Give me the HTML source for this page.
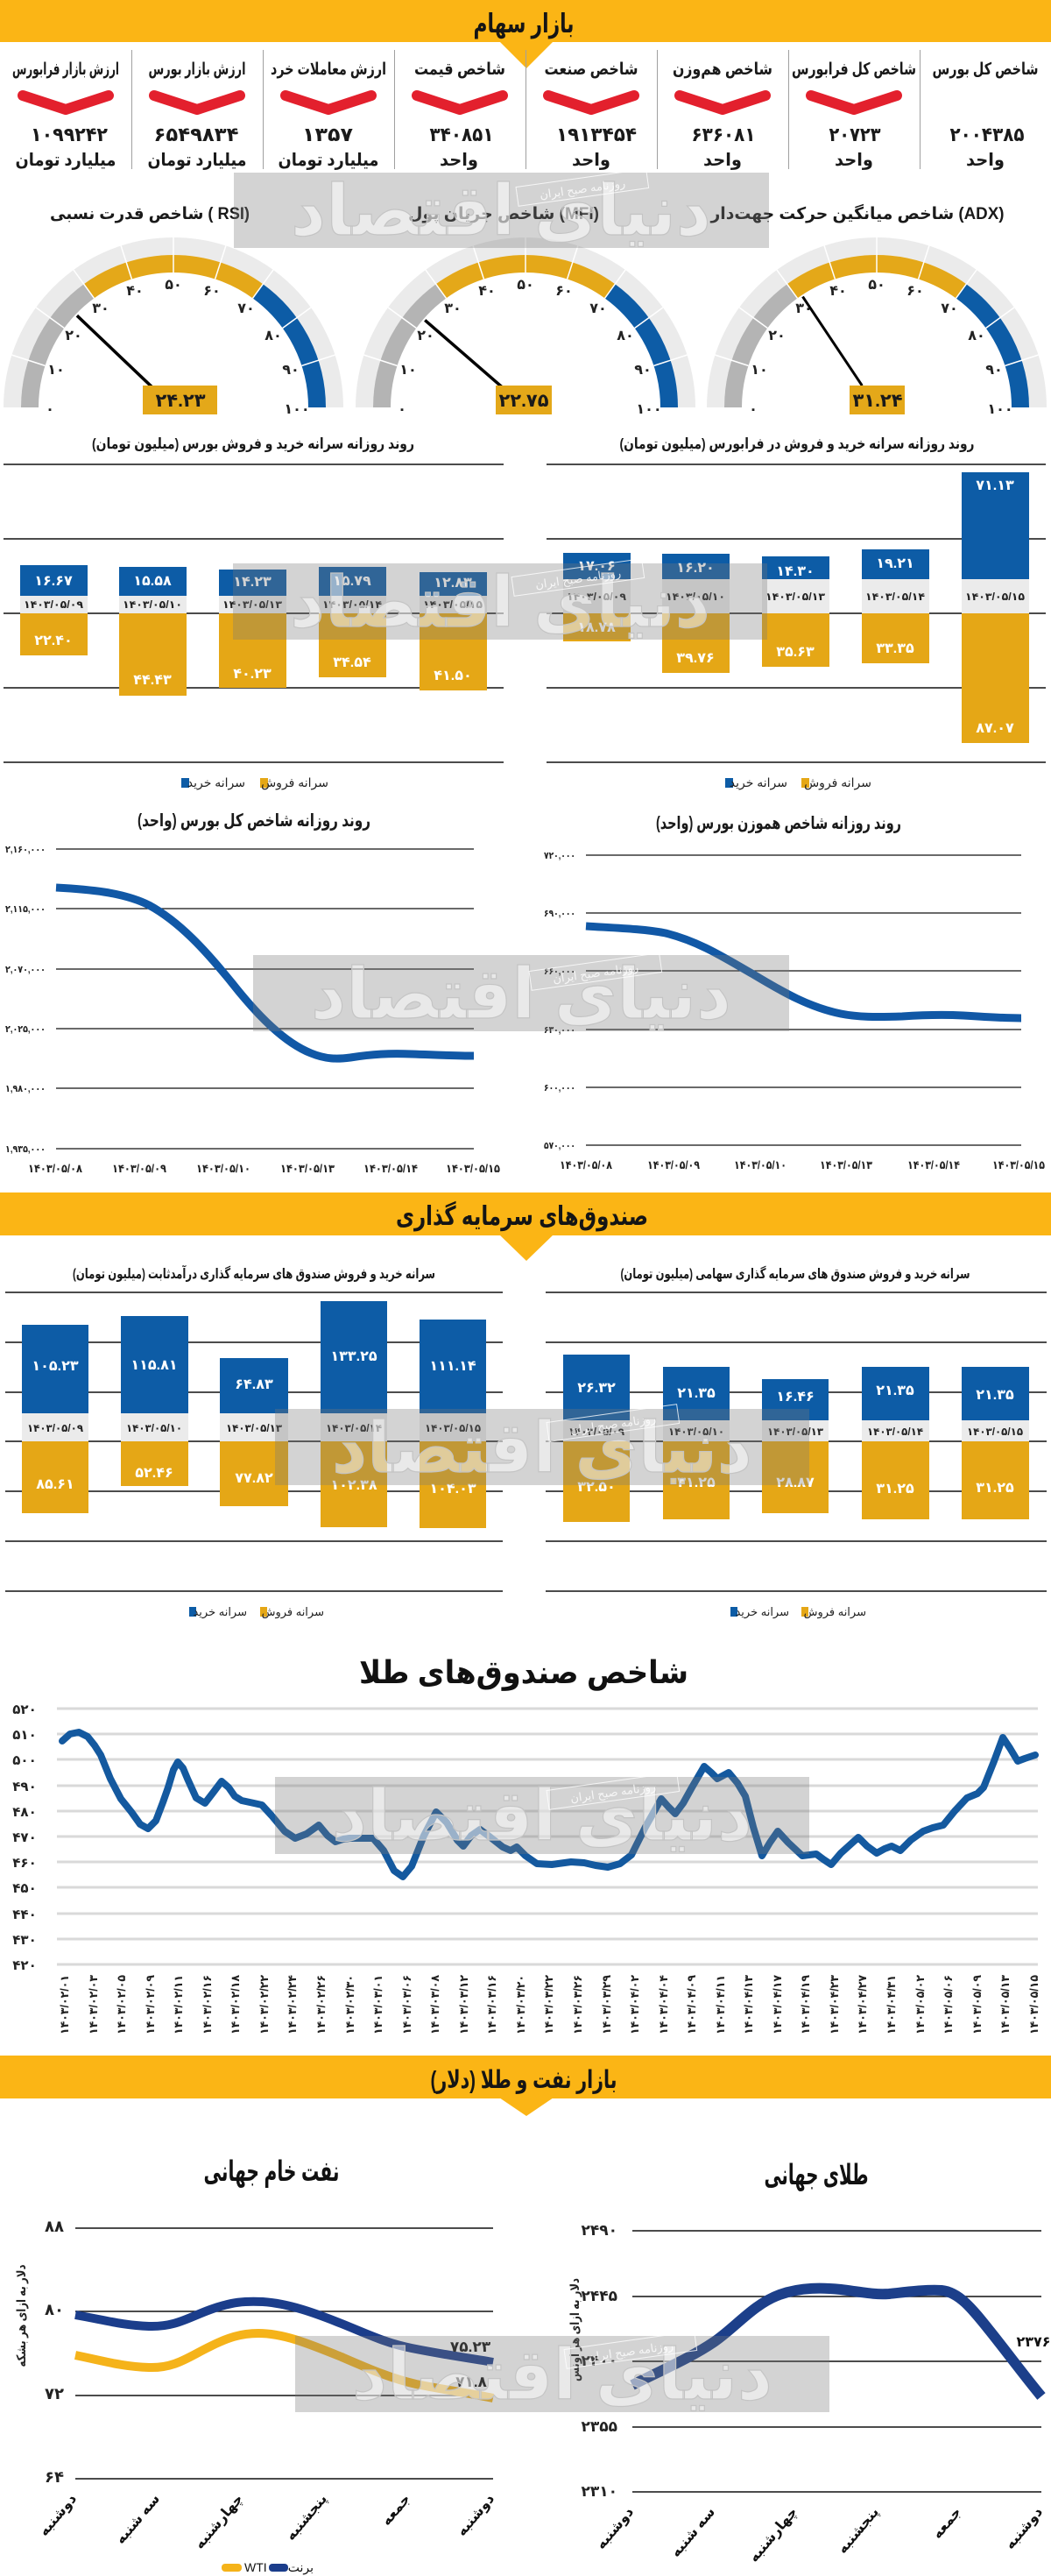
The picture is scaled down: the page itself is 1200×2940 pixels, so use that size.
<!DOCTYPE html>
<html lang="fa">
<head>
<meta charset="utf-8">
<style>
html,body{margin:0;padding:0;background:#fff;}
svg{display:block;}
text{font-family:"Liberation Sans","DejaVu Sans",sans-serif;}
</style>
</head>
<body>
<svg width="1200" height="2940" viewBox="0 0 1200 2940" xmlns="http://www.w3.org/2000/svg">
<rect width="1200" height="2940" fill="#fff"/>

<!-- ===== HEADER: بازار سهام ===== -->
<rect x="0" y="0" width="1200" height="48" fill="#fbb515"/>
<polygon points="570,47 632,47 601,78" fill="#fbb515"/>
<text x="598" y="37" font-size="30" font-weight="bold" text-anchor="middle" fill="#151515" textLength="115" lengthAdjust="spacingAndGlyphs">بازار سهام</text>

<g stroke="#a0a0a0" stroke-width="1">
<line x1="150.5" y1="57" x2="150.5" y2="193"/><line x1="300.5" y1="57" x2="300.5" y2="193"/>
<line x1="450.5" y1="57" x2="450.5" y2="193"/><line x1="600.5" y1="57" x2="600.5" y2="193"/>
<line x1="750.5" y1="57" x2="750.5" y2="193"/><line x1="900.5" y1="57" x2="900.5" y2="193"/>
<line x1="1050.5" y1="57" x2="1050.5" y2="193"/>
</g>

<g font-weight="bold" text-anchor="middle" fill="#1a1a1a" lengthAdjust="spacingAndGlyphs">
<text x="75" y="85" font-size="19" textLength="122" lengthAdjust="spacingAndGlyphs">ارزش بازار فرابورس</text>
<text x="225" y="85" font-size="19" textLength="111" lengthAdjust="spacingAndGlyphs">ارزش بازار بورس</text>
<text x="375" y="85" font-size="19" textLength="132" lengthAdjust="spacingAndGlyphs">ارزش معاملات خرد</text>
<text x="525" y="85" font-size="19" textLength="104" lengthAdjust="spacingAndGlyphs">شاخص قیمت</text>
<text x="675" y="85" font-size="19" textLength="107" lengthAdjust="spacingAndGlyphs">شاخص صنعت</text>
<text x="825" y="85" font-size="19" textLength="114" lengthAdjust="spacingAndGlyphs">شاخص هم‌وزن</text>
<text x="975" y="85" font-size="19" textLength="142" lengthAdjust="spacingAndGlyphs">شاخص کل فرابورس</text>
<text x="1125" y="85" font-size="19" textLength="121" lengthAdjust="spacingAndGlyphs">شاخص کل بورس</text>

<text x="79" y="161" font-size="22" textLength="88" lengthAdjust="spacingAndGlyphs">۱۰۹۹۲۴۲</text>
<text x="224" y="161" font-size="22" textLength="97" lengthAdjust="spacingAndGlyphs">۶۵۴۹۸۳۴</text>
<text x="374" y="161" font-size="22" textLength="58" lengthAdjust="spacingAndGlyphs">۱۳۵۷</text>
<text x="527" y="161" font-size="22" textLength="73" lengthAdjust="spacingAndGlyphs">۳۴۰۸۵۱</text>
<text x="681" y="161" font-size="22" textLength="92" lengthAdjust="spacingAndGlyphs">۱۹۱۳۴۵۴</text>
<text x="826" y="161" font-size="22" textLength="73" lengthAdjust="spacingAndGlyphs">۶۳۶۰۸۱</text>
<text x="976" y="161" font-size="22" textLength="59" lengthAdjust="spacingAndGlyphs">۲۰۷۲۳</text>
<text x="1127" y="161" font-size="22" textLength="85" lengthAdjust="spacingAndGlyphs">۲۰۰۴۳۸۵</text>

<text x="75" y="189" font-size="20" textLength="115" lengthAdjust="spacingAndGlyphs">میلیارد تومان</text>
<text x="225" y="189" font-size="20" textLength="113" lengthAdjust="spacingAndGlyphs">میلیارد تومان</text>
<text x="375" y="189" font-size="20" textLength="115" lengthAdjust="spacingAndGlyphs">میلیارد تومان</text>
<text x="524" y="189" font-size="20" textLength="44" lengthAdjust="spacingAndGlyphs">واحد</text>
<text x="675" y="189" font-size="20" textLength="44" lengthAdjust="spacingAndGlyphs">واحد</text>
<text x="825" y="189" font-size="20" textLength="44" lengthAdjust="spacingAndGlyphs">واحد</text>
<text x="975" y="189" font-size="20" textLength="44" lengthAdjust="spacingAndGlyphs">واحد</text>
<text x="1125" y="189" font-size="20" textLength="44" lengthAdjust="spacingAndGlyphs">واحد</text>
</g>

<g fill="none" stroke="#e3202d" stroke-width="12" stroke-linecap="round" stroke-linejoin="round">
<polyline points="26,109 75,125 124,109"/>
<polyline points="176,109 225,125 274,109"/>
<polyline points="326,109 375,125 424,109"/>
<polyline points="476,109 525,125 574,109"/>
<polyline points="626,109 675,125 724,109"/>
<polyline points="776,109 825,125 874,109"/>
<polyline points="926,109 975,125 1024,109"/>
</g>

<!-- ===== GAUGE TITLES ===== -->
<g font-weight="bold" text-anchor="middle" fill="#1a1a1a" font-size="19">
<text x="171" y="250" textLength="228" lengthAdjust="spacingAndGlyphs">شاخص قدرت نسبی ( RSI)</text>
<text x="575" y="250" textLength="218" lengthAdjust="spacingAndGlyphs">شاخص جریان پول (MFI)</text>
<text x="979" y="250" textLength="335" lengthAdjust="spacingAndGlyphs">شاخص میانگین حرکت جهت‌دار (ADX)</text>
</g>

<!-- ===== GAUGE RSI ===== -->
<g transform="translate(198,465)">
<path d="M-184,0 A184,184 0 0 1 184,0" fill="none" stroke="#ebebeb" stroke-width="20"/>
<path d="M-164,0 A164,164 0 0 1 -96.4,-132.7" fill="none" stroke="#b4b4b4" stroke-width="20"/>
<path d="M-96.4,-132.7 A164,164 0 0 1 96.4,-132.7" fill="none" stroke="#e4a819" stroke-width="20"/>
<path d="M96.4,-132.7 A164,164 0 0 1 164,0" fill="none" stroke="#0d5ca6" stroke-width="20"/>
<g stroke="#fff" stroke-width="1.5">
<line x1="-146.5" y1="-47.6" x2="-184.5" y2="-59.9"/><line x1="-124.6" y1="-90.5" x2="-156.9" y2="-114"/>
<line x1="-90.5" y1="-124.6" x2="-114" y2="-156.9"/><line x1="-47.6" y1="-146.5" x2="-59.9" y2="-184.5"/>
<line x1="0" y1="-154" x2="0" y2="-194"/><line x1="47.6" y1="-146.5" x2="59.9" y2="-184.5"/>
<line x1="90.5" y1="-124.6" x2="114" y2="-156.9"/><line x1="124.6" y1="-90.5" x2="156.9" y2="-114"/>
<line x1="146.5" y1="-47.6" x2="184.5" y2="-59.9"/>
</g>
<g font-size="16" font-weight="bold" text-anchor="middle" fill="#222">
<text x="-141" y="7">۰</text><text x="-134" y="-38">۱۰</text><text x="-114" y="-77">۲۰</text>
<text x="-83" y="-108">۳۰</text><text x="-44" y="-128">۴۰</text><text x="0" y="-135">۵۰</text>
<text x="44" y="-128">۶۰</text><text x="83" y="-108">۷۰</text><text x="114" y="-77">۸۰</text>
<text x="134" y="-38">۹۰</text><text x="141" y="7">۱۰۰</text>
</g>
<line x1="-21.7" y1="-20.7" x2="-110.1" y2="-104.8" stroke="#000" stroke-width="3.5"/>
<rect x="-35" y="-25" width="85" height="33" fill="#e4a819"/>
<text x="8" y="-1" font-size="21" font-weight="bold" text-anchor="middle" fill="#1a1a1a">۲۴.۲۳</text>
</g>

<!-- ===== GAUGE MFI ===== -->
<g transform="translate(600,465)">
<path d="M-184,0 A184,184 0 0 1 184,0" fill="none" stroke="#ebebeb" stroke-width="20"/>
<path d="M-164,0 A164,164 0 0 1 -96.4,-132.7" fill="none" stroke="#b4b4b4" stroke-width="20"/>
<path d="M-96.4,-132.7 A164,164 0 0 1 96.4,-132.7" fill="none" stroke="#e4a819" stroke-width="20"/>
<path d="M96.4,-132.7 A164,164 0 0 1 164,0" fill="none" stroke="#0d5ca6" stroke-width="20"/>
<g stroke="#fff" stroke-width="1.5">
<line x1="-146.5" y1="-47.6" x2="-184.5" y2="-59.9"/><line x1="-124.6" y1="-90.5" x2="-156.9" y2="-114"/>
<line x1="-90.5" y1="-124.6" x2="-114" y2="-156.9"/><line x1="-47.6" y1="-146.5" x2="-59.9" y2="-184.5"/>
<line x1="0" y1="-154" x2="0" y2="-194"/><line x1="47.6" y1="-146.5" x2="59.9" y2="-184.5"/>
<line x1="90.5" y1="-124.6" x2="114" y2="-156.9"/><line x1="124.6" y1="-90.5" x2="156.9" y2="-114"/>
<line x1="146.5" y1="-47.6" x2="184.5" y2="-59.9"/>
</g>
<g font-size="16" font-weight="bold" text-anchor="middle" fill="#222">
<text x="-141" y="7">۰</text><text x="-134" y="-38">۱۰</text><text x="-114" y="-77">۲۰</text>
<text x="-83" y="-108">۳۰</text><text x="-44" y="-128">۴۰</text><text x="0" y="-135">۵۰</text>
<text x="44" y="-128">۶۰</text><text x="83" y="-108">۷۰</text><text x="114" y="-77">۸۰</text>
<text x="134" y="-38">۹۰</text><text x="141" y="7">۱۰۰</text>
</g>
<line x1="-22.7" y1="-19.7" x2="-114.8" y2="-99.6" stroke="#000" stroke-width="3.5"/>
<rect x="-34" y="-25" width="64" height="33" fill="#e4a819"/>
<text x="-2" y="-1" font-size="21" font-weight="bold" text-anchor="middle" fill="#1a1a1a">۲۲.۷۵</text>
</g>

<!-- ===== GAUGE ADX ===== -->
<g transform="translate(1001,465)">
<path d="M-184,0 A184,184 0 0 1 184,0" fill="none" stroke="#ebebeb" stroke-width="20"/>
<path d="M-164,0 A164,164 0 0 1 -96.4,-132.7" fill="none" stroke="#b4b4b4" stroke-width="20"/>
<path d="M-96.4,-132.7 A164,164 0 0 1 96.4,-132.7" fill="none" stroke="#e4a819" stroke-width="20"/>
<path d="M96.4,-132.7 A164,164 0 0 1 164,0" fill="none" stroke="#0d5ca6" stroke-width="20"/>
<g stroke="#fff" stroke-width="1.5">
<line x1="-146.5" y1="-47.6" x2="-184.5" y2="-59.9"/><line x1="-124.6" y1="-90.5" x2="-156.9" y2="-114"/>
<line x1="-90.5" y1="-124.6" x2="-114" y2="-156.9"/><line x1="-47.6" y1="-146.5" x2="-59.9" y2="-184.5"/>
<line x1="0" y1="-154" x2="0" y2="-194"/><line x1="47.6" y1="-146.5" x2="59.9" y2="-184.5"/>
<line x1="90.5" y1="-124.6" x2="114" y2="-156.9"/><line x1="124.6" y1="-90.5" x2="156.9" y2="-114"/>
<line x1="146.5" y1="-47.6" x2="184.5" y2="-59.9"/>
</g>
<g font-size="16" font-weight="bold" text-anchor="middle" fill="#222">
<text x="-141" y="7">۰</text><text x="-134" y="-38">۱۰</text><text x="-114" y="-77">۲۰</text>
<text x="-83" y="-108">۳۰</text><text x="-44" y="-128">۴۰</text><text x="0" y="-135">۵۰</text>
<text x="44" y="-128">۶۰</text><text x="83" y="-108">۷۰</text><text x="114" y="-77">۸۰</text>
<text x="134" y="-38">۹۰</text><text x="141" y="7">۱۰۰</text>
</g>
<line x1="-16.7" y1="-24.9" x2="-84.5" y2="-126.4" stroke="#000" stroke-width="3"/>
<rect x="-31" y="-25" width="63" height="33" fill="#e4a819"/>
<text x="1" y="-1" font-size="21" font-weight="bold" text-anchor="middle" fill="#1a1a1a">۳۱.۲۴</text>
</g>

<!-- ===== BAR CHART LEFT: بورس ===== -->
<text x="289" y="512" font-size="17" font-weight="bold" text-anchor="middle" fill="#1a1a1a" textLength="368" lengthAdjust="spacingAndGlyphs">روند روزانه سرانه خرید و فروش بورس (میلیون تومان)</text>
<path d="M4,530H575M4,615H575M4,700H575M4,785H575M4,870H575" stroke="#111" stroke-width="1.5"/>
<g fill="#0d5ca6">
<rect x="23" y="645" width="77" height="35"/><rect x="136" y="647" width="77" height="33"/>
<rect x="250" y="650" width="77" height="30"/><rect x="364" y="647" width="77" height="33"/>
<rect x="479" y="653" width="77" height="27"/>
</g>
<g fill="#ebebeb">
<rect x="23" y="680" width="77" height="20"/><rect x="136" y="680" width="77" height="20"/>
<rect x="250" y="680" width="77" height="20"/><rect x="364" y="680" width="77" height="20"/>
<rect x="479" y="680" width="77" height="20"/>
</g>
<g fill="#e5a716">
<rect x="23" y="700" width="77" height="48"/><rect x="136" y="700" width="77" height="94"/>
<rect x="250" y="700" width="77" height="85"/><rect x="364" y="700" width="77" height="73"/>
<rect x="479" y="700" width="77" height="88"/>
</g>
<g font-size="16" font-weight="bold" text-anchor="middle" fill="#fff">
<text x="61" y="668">۱۶.۶۷</text><text x="174" y="668">۱۵.۵۸</text><text x="288" y="669">۱۴.۲۳</text>
<text x="402" y="668">۱۵.۷۹</text><text x="517" y="670">۱۲.۸۳</text>
<text x="61" y="736">۲۲.۴۰</text><text x="174" y="781">۴۴.۴۳</text><text x="288" y="774">۴۰.۲۳</text>
<text x="402" y="761">۳۴.۵۴</text><text x="517" y="776">۴۱.۵۰</text>
</g>
<g font-size="12" font-weight="bold" text-anchor="middle" fill="#222">
<text x="61" y="694" textLength="68" lengthAdjust="spacingAndGlyphs">۱۴۰۳/۰۵/۰۹</text>
<text x="174" y="694" textLength="68" lengthAdjust="spacingAndGlyphs">۱۴۰۳/۰۵/۱۰</text>
<text x="288" y="694" textLength="68" lengthAdjust="spacingAndGlyphs">۱۴۰۳/۰۵/۱۳</text>
<text x="402" y="694" textLength="68" lengthAdjust="spacingAndGlyphs">۱۴۰۳/۰۵/۱۴</text>
<text x="517" y="694" textLength="68" lengthAdjust="spacingAndGlyphs">۱۴۰۳/۰۵/۱۵</text>
</g>
<rect x="207" y="888" width="9" height="11" fill="#0d5ca6"/>
<text x="280" y="898" font-size="14" text-anchor="end" fill="#222">سرانه خرید</text>
<rect x="297" y="888" width="9" height="11" fill="#e5a716"/>
<text x="375" y="898" font-size="14" text-anchor="end" fill="#222">سرانه فروش</text>

<!-- ===== BAR CHART RIGHT: فرابورس ===== -->
<text x="910" y="512" font-size="17" font-weight="bold" text-anchor="middle" fill="#1a1a1a" textLength="405" lengthAdjust="spacingAndGlyphs">روند روزانه سرانه خرید و فروش در فرابورس (میلیون تومان)</text>
<path d="M624,530H1194M624,615H1194M624,700H1194M624,785H1194M624,870H1194" stroke="#111" stroke-width="1.5"/>
<g fill="#0d5ca6">
<rect x="643" y="631" width="77" height="30"/><rect x="756" y="632" width="77" height="29"/>
<rect x="870" y="635" width="77" height="26"/><rect x="984" y="627" width="77" height="34"/>
<rect x="1098" y="539" width="77" height="122"/>
</g>
<g fill="#ebebeb">
<rect x="643" y="661" width="77" height="39"/><rect x="756" y="661" width="77" height="39"/>
<rect x="870" y="661" width="77" height="39"/><rect x="984" y="661" width="77" height="39"/>
<rect x="1098" y="661" width="77" height="39"/>
</g>
<g fill="#e5a716">
<rect x="643" y="700" width="77" height="32"/><rect x="756" y="700" width="77" height="68"/>
<rect x="870" y="700" width="77" height="61"/><rect x="984" y="700" width="77" height="57"/>
<rect x="1098" y="700" width="77" height="148"/>
</g>
<g font-size="16" font-weight="bold" text-anchor="middle" fill="#fff">
<text x="681" y="651">۱۷.۰۶</text><text x="794" y="653">۱۶.۲۰</text><text x="908" y="657">۱۴.۳۰</text>
<text x="1022" y="648">۱۹.۲۱</text><text x="1136" y="559">۷۱.۱۳</text>
<text x="681" y="721">۱۸.۷۸</text><text x="794" y="756">۳۹.۷۶</text><text x="908" y="749">۳۵.۶۳</text>
<text x="1022" y="745">۳۳.۳۵</text><text x="1136" y="836">۸۷.۰۷</text>
</g>
<g font-size="12" font-weight="bold" text-anchor="middle" fill="#222">
<text x="681" y="685" textLength="68" lengthAdjust="spacingAndGlyphs">۱۴۰۳/۰۵/۰۹</text>
<text x="794" y="685" textLength="68" lengthAdjust="spacingAndGlyphs">۱۴۰۳/۰۵/۱۰</text>
<text x="908" y="685" textLength="68" lengthAdjust="spacingAndGlyphs">۱۴۰۳/۰۵/۱۳</text>
<text x="1022" y="685" textLength="68" lengthAdjust="spacingAndGlyphs">۱۴۰۳/۰۵/۱۴</text>
<text x="1136" y="685" textLength="68" lengthAdjust="spacingAndGlyphs">۱۴۰۳/۰۵/۱۵</text>
</g>
<rect x="828" y="888" width="9" height="11" fill="#0d5ca6"/>
<text x="899" y="898" font-size="14" text-anchor="end" fill="#222">سرانه خرید</text>
<rect x="915" y="888" width="9" height="11" fill="#e5a716"/>
<text x="995" y="898" font-size="14" text-anchor="end" fill="#222">سرانه فروش</text>

<!-- ===== LINE CHART LEFT: شاخص کل ===== -->
<text x="290" y="943" font-size="20" font-weight="bold" text-anchor="middle" fill="#1a1a1a" textLength="266" lengthAdjust="spacingAndGlyphs">روند روزانه شاخص کل بورس (واحد)</text>
<path d="M64,969H541M64,1037H541M64,1106H541M64,1174H541M64,1242H541M64,1311H541" stroke="#111" stroke-width="1.3"/>
<g font-size="11" font-weight="bold" text-anchor="end" fill="#222">
<text x="52" y="973" textLength="46" lengthAdjust="spacingAndGlyphs">۲,۱۶۰,۰۰۰</text>
<text x="52" y="1041" textLength="46" lengthAdjust="spacingAndGlyphs">۲,۱۱۵,۰۰۰</text>
<text x="52" y="1110" textLength="46" lengthAdjust="spacingAndGlyphs">۲,۰۷۰,۰۰۰</text>
<text x="52" y="1178" textLength="46" lengthAdjust="spacingAndGlyphs">۲,۰۲۵,۰۰۰</text>
<text x="52" y="1246" textLength="46" lengthAdjust="spacingAndGlyphs">۱,۹۸۰,۰۰۰</text>
<text x="52" y="1315" textLength="46" lengthAdjust="spacingAndGlyphs">۱,۹۳۵,۰۰۰</text>
</g>
<g font-size="13" font-weight="bold" text-anchor="middle" fill="#222">
<text x="63" y="1338" textLength="62" lengthAdjust="spacingAndGlyphs">۱۴۰۳/۰۵/۰۸</text>
<text x="159" y="1338" textLength="62" lengthAdjust="spacingAndGlyphs">۱۴۰۳/۰۵/۰۹</text>
<text x="255" y="1338" textLength="62" lengthAdjust="spacingAndGlyphs">۱۴۰۳/۰۵/۱۰</text>
<text x="351" y="1338" textLength="62" lengthAdjust="spacingAndGlyphs">۱۴۰۳/۰۵/۱۳</text>
<text x="446" y="1338" textLength="62" lengthAdjust="spacingAndGlyphs">۱۴۰۳/۰۵/۱۴</text>
<text x="540" y="1338" textLength="62" lengthAdjust="spacingAndGlyphs">۱۴۰۳/۰۵/۱۵</text>
</g>
<path d="M64,1013 C100,1015 140,1018 170,1033 C205,1052 235,1085 265,1122 C295,1160 325,1190 355,1202 C372,1209 385,1209 400,1207 C425,1203 445,1202 470,1203 C500,1204 520,1205 541,1205" fill="none" stroke="#1158a6" stroke-width="9"/>

<!-- ===== LINE CHART RIGHT: هموزن ===== -->
<text x="889" y="946" font-size="20" font-weight="bold" text-anchor="middle" fill="#1a1a1a" textLength="280" lengthAdjust="spacingAndGlyphs">روند روزانه شاخص هموزن بورس (واحد)</text>
<path d="M669,976H1166M669,1042H1166M669,1108H1166M669,1175H1166M669,1241H1166M669,1307H1166" stroke="#111" stroke-width="1.3"/>
<g font-size="11" font-weight="bold" text-anchor="end" fill="#222">
<text x="657" y="980" textLength="36" lengthAdjust="spacingAndGlyphs">۷۲۰,۰۰۰</text>
<text x="657" y="1046" textLength="36" lengthAdjust="spacingAndGlyphs">۶۹۰,۰۰۰</text>
<text x="657" y="1112" textLength="36" lengthAdjust="spacingAndGlyphs">۶۶۰,۰۰۰</text>
<text x="657" y="1179" textLength="36" lengthAdjust="spacingAndGlyphs">۶۳۰,۰۰۰</text>
<text x="657" y="1245" textLength="36" lengthAdjust="spacingAndGlyphs">۶۰۰,۰۰۰</text>
<text x="657" y="1311" textLength="36" lengthAdjust="spacingAndGlyphs">۵۷۰,۰۰۰</text>
</g>
<g font-size="13" font-weight="bold" text-anchor="middle" fill="#222">
<text x="669" y="1334" textLength="60" lengthAdjust="spacingAndGlyphs">۱۴۰۳/۰۵/۰۸</text>
<text x="769" y="1334" textLength="60" lengthAdjust="spacingAndGlyphs">۱۴۰۳/۰۵/۰۹</text>
<text x="868" y="1334" textLength="60" lengthAdjust="spacingAndGlyphs">۱۴۰۳/۰۵/۱۰</text>
<text x="966" y="1334" textLength="60" lengthAdjust="spacingAndGlyphs">۱۴۰۳/۰۵/۱۳</text>
<text x="1066" y="1334" textLength="60" lengthAdjust="spacingAndGlyphs">۱۴۰۳/۰۵/۱۴</text>
<text x="1163" y="1334" textLength="60" lengthAdjust="spacingAndGlyphs">۱۴۰۳/۰۵/۱۵</text>
</g>
<path d="M669,1057 C700,1059 735,1060 760,1065 C800,1075 830,1095 860,1112 C895,1133 925,1150 960,1157 C980,1161 1000,1161 1030,1160 C1060,1158 1080,1158 1100,1159 C1130,1161 1150,1162 1166,1162" fill="none" stroke="#1158a6" stroke-width="9"/>

<!-- ===== FUNDS BANNER ===== -->
<rect x="0" y="1361" width="1200" height="49" fill="#fbb515"/>
<polygon points="570,1409 632,1409 601,1439" fill="#fbb515"/>
<text x="596" y="1398" font-size="30" font-weight="bold" text-anchor="middle" fill="#151515" textLength="288" lengthAdjust="spacingAndGlyphs">صندوق‌های سرمایه گذاری</text>

<!-- Funds left: درآمد ثابت -->
<text x="290" y="1459" font-size="16" font-weight="bold" text-anchor="middle" fill="#1a1a1a" textLength="414" lengthAdjust="spacingAndGlyphs">سرانه خرید و فروش صندوق های سرمایه گذاری درآمدثابت (میلیون تومان)</text>
<path d="M6,1475H574M6,1532H574M6,1589H574M6,1645H574M6,1702H574M6,1759H574M6,1816H574" stroke="#111" stroke-width="1.5"/>
<g fill="#0d5ca6">
<rect x="25" y="1512" width="76" height="101"/><rect x="138" y="1502" width="77" height="111"/>
<rect x="251" y="1550" width="78" height="63"/><rect x="366" y="1485" width="76" height="128"/>
<rect x="479" y="1506" width="76" height="107"/>
</g>
<g fill="#ebebeb">
<rect x="25" y="1613" width="76" height="32"/><rect x="138" y="1613" width="77" height="32"/>
<rect x="251" y="1613" width="78" height="32"/><rect x="366" y="1613" width="76" height="32"/>
<rect x="479" y="1613" width="76" height="32"/>
</g>
<g fill="#e5a716">
<rect x="25" y="1645" width="76" height="82"/><rect x="138" y="1645" width="77" height="51"/>
<rect x="251" y="1645" width="78" height="74"/><rect x="366" y="1645" width="76" height="98"/>
<rect x="479" y="1645" width="76" height="99"/>
</g>
<g font-size="16" font-weight="bold" text-anchor="middle" fill="#fff">
<text x="63" y="1564">۱۰۵.۲۳</text><text x="176" y="1563">۱۱۵.۸۱</text><text x="290" y="1585">۶۴.۸۳</text>
<text x="404" y="1553">۱۳۳.۲۵</text><text x="517" y="1564">۱۱۱.۱۴</text>
<text x="63" y="1699">۸۵.۶۱</text><text x="176" y="1686">۵۲.۴۶</text><text x="290" y="1692">۷۷.۸۲</text>
<text x="404" y="1700">۱۰۲.۳۸</text><text x="517" y="1704">۱۰۴.۰۳</text>
</g>
<g font-size="12" font-weight="bold" text-anchor="middle" fill="#222">
<text x="63" y="1634" textLength="64" lengthAdjust="spacingAndGlyphs">۱۴۰۳/۰۵/۰۹</text>
<text x="176" y="1634" textLength="64" lengthAdjust="spacingAndGlyphs">۱۴۰۳/۰۵/۱۰</text>
<text x="290" y="1634" textLength="64" lengthAdjust="spacingAndGlyphs">۱۴۰۳/۰۵/۱۳</text>
<text x="404" y="1634" textLength="64" lengthAdjust="spacingAndGlyphs">۱۴۰۳/۰۵/۱۴</text>
<text x="517" y="1634" textLength="64" lengthAdjust="spacingAndGlyphs">۱۴۰۳/۰۵/۱۵</text>
</g>
<rect x="216" y="1834" width="8" height="11" fill="#0d5ca6"/>
<text x="282" y="1844" font-size="13" text-anchor="end" fill="#222">سرانه خرید</text>
<rect x="297" y="1834" width="8" height="11" fill="#e5a716"/>
<text x="370" y="1844" font-size="13" text-anchor="end" fill="#222">سرانه فروش</text>

<!-- Funds right: سهامی -->
<text x="908" y="1459" font-size="16" font-weight="bold" text-anchor="middle" fill="#1a1a1a" textLength="399" lengthAdjust="spacingAndGlyphs">سرانه خرید و فروش صندوق های سرمایه گذاری سهامی (میلیون تومان)</text>
<path d="M623,1475H1195M623,1532H1195M623,1589H1195M623,1645H1195M623,1702H1195M623,1759H1195M623,1816H1195" stroke="#111" stroke-width="1.5"/>
<g fill="#0d5ca6">
<rect x="643" y="1546" width="76" height="75"/><rect x="757" y="1560" width="76" height="61"/>
<rect x="870" y="1574" width="76" height="47"/><rect x="984" y="1560" width="77" height="61"/>
<rect x="1098" y="1560" width="77" height="61"/>
</g>
<g fill="#ebebeb">
<rect x="643" y="1621" width="76" height="24"/><rect x="757" y="1621" width="76" height="24"/>
<rect x="870" y="1621" width="76" height="24"/><rect x="984" y="1621" width="77" height="24"/>
<rect x="1098" y="1621" width="77" height="24"/>
</g>
<g fill="#e5a716">
<rect x="643" y="1645" width="76" height="92"/><rect x="757" y="1645" width="76" height="89"/>
<rect x="870" y="1645" width="76" height="82"/><rect x="984" y="1645" width="77" height="89"/>
<rect x="1098" y="1645" width="77" height="89"/>
</g>
<g font-size="16" font-weight="bold" text-anchor="middle" fill="#fff">
<text x="681" y="1589">۲۶.۳۲</text><text x="795" y="1595">۲۱.۳۵</text><text x="908" y="1599">۱۶.۴۶</text>
<text x="1022" y="1592">۲۱.۳۵</text><text x="1136" y="1597">۲۱.۳۵</text>
<text x="681" y="1702">۳۲.۵۰</text><text x="795" y="1697">۳۱.۲۵</text><text x="908" y="1697">۲۸.۸۷</text>
<text x="1022" y="1704">۳۱.۲۵</text><text x="1136" y="1703">۳۱.۲۵</text>
</g>
<g font-size="12" font-weight="bold" text-anchor="middle" fill="#222">
<text x="681" y="1638" textLength="64" lengthAdjust="spacingAndGlyphs">۱۴۰۳/۰۵/۰۹</text>
<text x="795" y="1638" textLength="64" lengthAdjust="spacingAndGlyphs">۱۴۰۳/۰۵/۱۰</text>
<text x="908" y="1638" textLength="64" lengthAdjust="spacingAndGlyphs">۱۴۰۳/۰۵/۱۳</text>
<text x="1022" y="1638" textLength="64" lengthAdjust="spacingAndGlyphs">۱۴۰۳/۰۵/۱۴</text>
<text x="1136" y="1638" textLength="64" lengthAdjust="spacingAndGlyphs">۱۴۰۳/۰۵/۱۵</text>
</g>
<rect x="834" y="1834" width="8" height="11" fill="#0d5ca6"/>
<text x="901" y="1844" font-size="13" text-anchor="end" fill="#222">سرانه خرید</text>
<rect x="915" y="1834" width="8" height="11" fill="#e5a716"/>
<text x="989" y="1844" font-size="13" text-anchor="end" fill="#222">سرانه فروش</text>

<!-- ===== GOLD FUNDS INDEX ===== -->
<text x="598" y="1921" font-size="36" font-weight="bold" text-anchor="middle" fill="#111" textLength="376" lengthAdjust="spacingAndGlyphs">شاخص صندوق‌های طلا</text>
<path d="M65,1950H1185M65,1979H1185M65,2008H1185M65,2038H1185M65,2067H1185M65,2096H1185M65,2125H1185M65,2154H1185M65,2184H1185M65,2213H1185M65,2242H1185" stroke="#d9d9d9" stroke-width="3"/>
<g font-size="15" font-weight="bold" text-anchor="middle" fill="#222">
<text x="28" y="1956">۵۲۰</text><text x="28" y="1985">۵۱۰</text><text x="28" y="2014">۵۰۰</text>
<text x="28" y="2044">۴۹۰</text><text x="28" y="2073">۴۸۰</text><text x="28" y="2102">۴۷۰</text>
<text x="28" y="2131">۴۶۰</text><text x="28" y="2160">۴۵۰</text><text x="28" y="2190">۴۴۰</text>
<text x="28" y="2219">۴۳۰</text><text x="28" y="2248">۴۲۰</text>
</g>
<polyline fill="none" stroke="#14599f" stroke-width="8" stroke-linejoin="round" stroke-linecap="round" points="71,1987 80,1979 90,1977 100,1982 108,1992 115,2003 126,2030 138,2053 150,2068 160,2082 169,2087 178,2078 186,2057 192,2040 198,2020 203,2011 209,2018 214,2030 224,2052 234,2058 244,2045 253,2033 261,2040 268,2050 276,2055 290,2058 299,2060 310,2072 325,2090 337,2098 350,2093 364,2083 374,2095 383,2102 392,2099 399,2098 415,2098 426,2098 438,2112 450,2135 460,2142 470,2130 484,2095 498,2068 510,2080 522,2100 529,2107 538,2095 548,2088 560,2097 574,2108 583,2112 590,2108 600,2118 613,2127 630,2128 652,2125 667,2126 680,2129 694,2131 708,2127 721,2117 737,2085 755,2053 763,2062 771,2070 780,2058 790,2040 804,2016 812,2023 819,2030 832,2023 842,2035 851,2050 860,2085 870,2118 879,2103 888,2090 900,2103 916,2118 932,2116 940,2122 949,2128 960,2115 980,2097 990,2107 1001,2115 1010,2110 1018,2107 1028,2112 1040,2100 1054,2090 1065,2086 1077,2083 1090,2067 1104,2052 1116,2047 1123,2040 1135,2010 1145,1983 1153,1995 1162,2010 1170,2007 1182,2003"/>
<g font-size="13" font-weight="bold" text-anchor="end" fill="#222">
<text x="78" y="2254" transform="rotate(-90 78 2254)" textLength="68" lengthAdjust="spacingAndGlyphs">۱۴۰۳/۰۲/۰۱</text>
<text x="111" y="2254" transform="rotate(-90 111 2254)" textLength="68" lengthAdjust="spacingAndGlyphs">۱۴۰۳/۰۲/۰۳</text>
<text x="143" y="2254" transform="rotate(-90 143 2254)" textLength="68" lengthAdjust="spacingAndGlyphs">۱۴۰۳/۰۲/۰۵</text>
<text x="176" y="2254" transform="rotate(-90 176 2254)" textLength="68" lengthAdjust="spacingAndGlyphs">۱۴۰۳/۰۲/۰۹</text>
<text x="208" y="2254" transform="rotate(-90 208 2254)" textLength="68" lengthAdjust="spacingAndGlyphs">۱۴۰۳/۰۲/۱۱</text>
<text x="241" y="2254" transform="rotate(-90 241 2254)" textLength="68" lengthAdjust="spacingAndGlyphs">۱۴۰۳/۰۲/۱۶</text>
<text x="273" y="2254" transform="rotate(-90 273 2254)" textLength="68" lengthAdjust="spacingAndGlyphs">۱۴۰۳/۰۲/۱۸</text>
<text x="306" y="2254" transform="rotate(-90 306 2254)" textLength="68" lengthAdjust="spacingAndGlyphs">۱۴۰۳/۰۲/۲۲</text>
<text x="338" y="2254" transform="rotate(-90 338 2254)" textLength="68" lengthAdjust="spacingAndGlyphs">۱۴۰۳/۰۲/۲۴</text>
<text x="371" y="2254" transform="rotate(-90 371 2254)" textLength="68" lengthAdjust="spacingAndGlyphs">۱۴۰۳/۰۲/۲۶</text>
<text x="404" y="2254" transform="rotate(-90 404 2254)" textLength="68" lengthAdjust="spacingAndGlyphs">۱۴۰۳/۰۲/۳۰</text>
<text x="436" y="2254" transform="rotate(-90 436 2254)" textLength="68" lengthAdjust="spacingAndGlyphs">۱۴۰۳/۰۳/۰۱</text>
<text x="469" y="2254" transform="rotate(-90 469 2254)" textLength="68" lengthAdjust="spacingAndGlyphs">۱۴۰۳/۰۳/۰۶</text>
<text x="501" y="2254" transform="rotate(-90 501 2254)" textLength="68" lengthAdjust="spacingAndGlyphs">۱۴۰۳/۰۳/۰۸</text>
<text x="534" y="2254" transform="rotate(-90 534 2254)" textLength="68" lengthAdjust="spacingAndGlyphs">۱۴۰۳/۰۳/۱۲</text>
<text x="566" y="2254" transform="rotate(-90 566 2254)" textLength="68" lengthAdjust="spacingAndGlyphs">۱۴۰۳/۰۳/۱۶</text>
<text x="599" y="2254" transform="rotate(-90 599 2254)" textLength="68" lengthAdjust="spacingAndGlyphs">۱۴۰۳/۰۳/۲۰</text>
<text x="631" y="2254" transform="rotate(-90 631 2254)" textLength="68" lengthAdjust="spacingAndGlyphs">۱۴۰۳/۰۳/۲۲</text>
<text x="664" y="2254" transform="rotate(-90 664 2254)" textLength="68" lengthAdjust="spacingAndGlyphs">۱۴۰۳/۰۳/۲۶</text>
<text x="697" y="2254" transform="rotate(-90 697 2254)" textLength="68" lengthAdjust="spacingAndGlyphs">۱۴۰۳/۰۳/۲۹</text>
<text x="729" y="2254" transform="rotate(-90 729 2254)" textLength="68" lengthAdjust="spacingAndGlyphs">۱۴۰۳/۰۴/۰۲</text>
<text x="762" y="2254" transform="rotate(-90 762 2254)" textLength="68" lengthAdjust="spacingAndGlyphs">۱۴۰۳/۰۴/۰۴</text>
<text x="794" y="2254" transform="rotate(-90 794 2254)" textLength="68" lengthAdjust="spacingAndGlyphs">۱۴۰۳/۰۴/۰۹</text>
<text x="827" y="2254" transform="rotate(-90 827 2254)" textLength="68" lengthAdjust="spacingAndGlyphs">۱۴۰۳/۰۴/۱۱</text>
<text x="859" y="2254" transform="rotate(-90 859 2254)" textLength="68" lengthAdjust="spacingAndGlyphs">۱۴۰۳/۰۴/۱۳</text>
<text x="892" y="2254" transform="rotate(-90 892 2254)" textLength="68" lengthAdjust="spacingAndGlyphs">۱۴۰۳/۰۴/۱۷</text>
<text x="924" y="2254" transform="rotate(-90 924 2254)" textLength="68" lengthAdjust="spacingAndGlyphs">۱۴۰۳/۰۴/۱۹</text>
<text x="957" y="2254" transform="rotate(-90 957 2254)" textLength="68" lengthAdjust="spacingAndGlyphs">۱۴۰۳/۰۴/۲۳</text>
<text x="989" y="2254" transform="rotate(-90 989 2254)" textLength="68" lengthAdjust="spacingAndGlyphs">۱۴۰۳/۰۴/۲۷</text>
<text x="1022" y="2254" transform="rotate(-90 1022 2254)" textLength="68" lengthAdjust="spacingAndGlyphs">۱۴۰۳/۰۴/۳۱</text>
<text x="1055" y="2254" transform="rotate(-90 1055 2254)" textLength="68" lengthAdjust="spacingAndGlyphs">۱۴۰۳/۰۵/۰۲</text>
<text x="1087" y="2254" transform="rotate(-90 1087 2254)" textLength="68" lengthAdjust="spacingAndGlyphs">۱۴۰۳/۰۵/۰۶</text>
<text x="1120" y="2254" transform="rotate(-90 1120 2254)" textLength="68" lengthAdjust="spacingAndGlyphs">۱۴۰۳/۰۵/۰۹</text>
<text x="1152" y="2254" transform="rotate(-90 1152 2254)" textLength="68" lengthAdjust="spacingAndGlyphs">۱۴۰۳/۰۵/۱۳</text>
<text x="1185" y="2254" transform="rotate(-90 1185 2254)" textLength="68" lengthAdjust="spacingAndGlyphs">۱۴۰۳/۰۵/۱۵</text>
</g>

<!-- ===== OIL & GOLD BANNER ===== -->
<rect x="0" y="2346" width="1200" height="49" fill="#fbb515"/>
<polygon points="570,2394 632,2394 601,2415" fill="#fbb515"/>
<text x="598" y="2383" font-size="28" font-weight="bold" text-anchor="middle" fill="#151515" textLength="213" lengthAdjust="spacingAndGlyphs">بازار نفت و طلا (دلار)</text>

<!-- ===== OIL CHART ===== -->
<text x="310" y="2489" font-size="32" font-weight="bold" text-anchor="middle" fill="#111" textLength="155" lengthAdjust="spacingAndGlyphs">نفت خام جهانی</text>
<path d="M86,2543H563M86,2638H563M86,2734H563M86,2829H563" stroke="#111" stroke-width="1.5"/>
<g font-size="18" font-weight="bold" text-anchor="middle" fill="#222">
<text x="62" y="2547">۸۸</text><text x="62" y="2642">۸۰</text><text x="62" y="2738">۷۲</text><text x="62" y="2833">۶۴</text>
</g>
<text x="29" y="2643" font-size="14" font-weight="bold" text-anchor="middle" fill="#222" transform="rotate(-90 29 2643)" textLength="117" lengthAdjust="spacingAndGlyphs">دلار به ازای هر بشکه</text>
<path d="M86,2642 C120,2648 140,2654 170,2655 C200,2656 215,2645 240,2636 C265,2627 280,2626 300,2627 C330,2629 360,2640 390,2652 C420,2664 440,2674 470,2680 C510,2688 540,2692 563,2696" fill="none" stroke="#1b3d8b" stroke-width="10"/>
<path d="M86,2688 C120,2695 140,2701 170,2702 C200,2703 215,2690 240,2678 C260,2668 275,2663 295,2663 C325,2663 355,2676 390,2690 C420,2703 445,2714 475,2721 C510,2728 540,2732 563,2737" fill="none" stroke="#f5b31a" stroke-width="10"/>
<text x="537" y="2684" font-size="17" font-weight="bold" text-anchor="middle" fill="#111">۷۵.۲۳</text>
<text x="538" y="2724" font-size="17" font-weight="bold" text-anchor="middle" fill="#111">۷۱.۸</text>
<g font-size="16" font-weight="bold" text-anchor="end" fill="#111">
<text x="88" y="2852" transform="rotate(-50 88 2852)">دوشنبه</text>
<text x="183" y="2852" transform="rotate(-50 183 2852)">سه شنبه</text>
<text x="278" y="2852" transform="rotate(-50 278 2852)">چهارشنبه</text>
<text x="374" y="2852" transform="rotate(-50 374 2852)">پنجشنبه</text>
<text x="469" y="2852" transform="rotate(-50 469 2852)">جمعه</text>
<text x="565" y="2852" transform="rotate(-50 565 2852)">دوشنبه</text>
</g>
<rect x="253" y="2926" width="23" height="9" rx="4" fill="#f5b31a"/>
<text x="279" y="2935" font-size="14" fill="#111">WTI</text>
<rect x="307" y="2926" width="22" height="9" rx="4" fill="#1b3d8b"/>
<text x="358" y="2935" font-size="14" text-anchor="end" fill="#111">برنت</text>

<!-- ===== WORLD GOLD CHART ===== -->
<text x="932" y="2493" font-size="32" font-weight="bold" text-anchor="middle" fill="#111" textLength="119" lengthAdjust="spacingAndGlyphs">طلای جهانی</text>
<path d="M722,2546H1189M722,2621H1189M722,2695H1189M722,2770H1189M722,2844H1189" stroke="#111" stroke-width="1.5"/>
<g font-size="17" font-weight="bold" text-anchor="end" fill="#222">
<text x="705" y="2551">۲۴۹۰</text><text x="705" y="2626">۲۴۴۵</text><text x="705" y="2700">۲۴۰۰</text>
<text x="705" y="2775">۲۳۵۵</text><text x="705" y="2849">۲۳۱۰</text>
</g>
<text x="661" y="2659" font-size="14" font-weight="bold" text-anchor="middle" fill="#222" transform="rotate(-90 661 2659)" textLength="118" lengthAdjust="spacingAndGlyphs">دلار به ازای هر اونس</text>
<path d="M722,2722 C760,2703 790,2690 815,2673 C840,2656 860,2630 890,2619 C915,2610 940,2611 960,2613 C990,2617 1000,2619 1015,2618 C1035,2616 1055,2613 1075,2614 C1095,2616 1110,2635 1130,2660 C1150,2685 1170,2712 1189,2735" fill="none" stroke="#1c3f8a" stroke-width="12"/>
<text x="1180" y="2678" font-size="16" font-weight="bold" text-anchor="middle" fill="#111">۲۳۷۶</text>
<g font-size="16" font-weight="bold" text-anchor="end" fill="#111">
<text x="724" y="2867" transform="rotate(-50 724 2867)">دوشنبه</text>
<text x="817" y="2867" transform="rotate(-50 817 2867)">سه شنبه</text>
<text x="911" y="2867" transform="rotate(-50 911 2867)">چهارشنبه</text>
<text x="1004" y="2867" transform="rotate(-50 1004 2867)">پنجشنبه</text>
<text x="1098" y="2867" transform="rotate(-50 1098 2867)">جمعه</text>
<text x="1191" y="2867" transform="rotate(-50 1191 2867)">دوشنبه</text>
</g>

<!-- ===== WATERMARKS ===== -->
<g>
<rect x="267" y="197" width="611" height="86" fill="#7a7a7a" fill-opacity="0.33"/>
<text x="572" y="268" font-size="80" font-weight="bold" text-anchor="middle" fill="#fff" fill-opacity="0.55" stroke="#c4c4c4" stroke-width="1.2" textLength="480" lengthAdjust="spacingAndGlyphs">دنیای اقتصاد</text>
<g transform="rotate(-8 665 215)"><rect x="590" y="203" width="150" height="22" fill="none" stroke="#fff" stroke-opacity="0.8"/><text x="665" y="220" font-size="13" text-anchor="middle" fill="#fff" fill-opacity="0.8">روزنامه صبح ایران</text></g>
</g>
<g>
<rect x="266" y="643" width="610" height="87" fill="#7a7a7a" fill-opacity="0.33"/>
<text x="571" y="715" font-size="80" font-weight="bold" text-anchor="middle" fill="#fff" fill-opacity="0.5" stroke="#c4c4c4" stroke-width="1.2" textLength="480" lengthAdjust="spacingAndGlyphs">دنیای اقتصاد</text>
<g transform="rotate(-8 660 660)"><rect x="585" y="648" width="150" height="22" fill="none" stroke="#fff" stroke-opacity="0.8"/><text x="660" y="665" font-size="13" text-anchor="middle" fill="#fff" fill-opacity="0.8">روزنامه صبح ایران</text></g>
</g>
<g>
<rect x="289" y="1090" width="612" height="87" fill="#7a7a7a" fill-opacity="0.33"/>
<text x="595" y="1162" font-size="80" font-weight="bold" text-anchor="middle" fill="#fff" fill-opacity="0.5" stroke="#c4c4c4" stroke-width="1.2" textLength="480" lengthAdjust="spacingAndGlyphs">دنیای اقتصاد</text>
<g transform="rotate(-8 680 1110)"><rect x="605" y="1098" width="150" height="22" fill="none" stroke="#fff" stroke-opacity="0.8"/><text x="680" y="1115" font-size="13" text-anchor="middle" fill="#fff" fill-opacity="0.8">روزنامه صبح ایران</text></g>
</g>
<g>
<rect x="314" y="1608" width="610" height="87" fill="#7a7a7a" fill-opacity="0.33"/>
<text x="619" y="1680" font-size="80" font-weight="bold" text-anchor="middle" fill="#fff" fill-opacity="0.5" stroke="#c4c4c4" stroke-width="1.2" textLength="480" lengthAdjust="spacingAndGlyphs">دنیای اقتصاد</text>
<g transform="rotate(-8 700 1625)"><rect x="625" y="1613" width="150" height="22" fill="none" stroke="#fff" stroke-opacity="0.8"/><text x="700" y="1630" font-size="13" text-anchor="middle" fill="#fff" fill-opacity="0.8">روزنامه صبح ایران</text></g>
</g>
<g>
<rect x="314" y="2028" width="610" height="88" fill="#7a7a7a" fill-opacity="0.33"/>
<text x="619" y="2100" font-size="80" font-weight="bold" text-anchor="middle" fill="#fff" fill-opacity="0.5" stroke="#c4c4c4" stroke-width="1.2" textLength="480" lengthAdjust="spacingAndGlyphs">دنیای اقتصاد</text>
<g transform="rotate(-8 700 2045)"><rect x="625" y="2033" width="150" height="22" fill="none" stroke="#fff" stroke-opacity="0.8"/><text x="700" y="2050" font-size="13" text-anchor="middle" fill="#fff" fill-opacity="0.8">روزنامه صبح ایران</text></g>
</g>
<g>
<rect x="337" y="2666" width="610" height="87" fill="#7a7a7a" fill-opacity="0.33"/>
<text x="642" y="2738" font-size="80" font-weight="bold" text-anchor="middle" fill="#fff" fill-opacity="0.5" stroke="#c4c4c4" stroke-width="1.2" textLength="480" lengthAdjust="spacingAndGlyphs">دنیای اقتصاد</text>
<g transform="rotate(-8 720 2683)"><rect x="645" y="2671" width="150" height="22" fill="none" stroke="#fff" stroke-opacity="0.8"/><text x="720" y="2688" font-size="13" text-anchor="middle" fill="#fff" fill-opacity="0.8">روزنامه صبح ایران</text></g>
</g>

</svg>
</body>
</html>
